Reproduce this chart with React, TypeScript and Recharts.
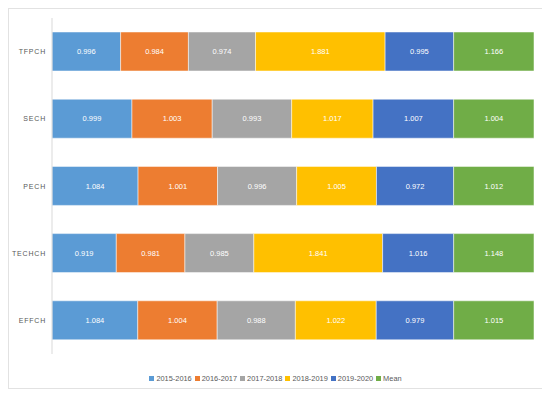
import React from "react";
import { BarChart, Bar, XAxis, YAxis, LabelList, Legend } from "recharts";

const categories = ["TFPCH", "SECH", "PECH", "TECHCH", "EFFCH"];
const seriesNames = ["2015-2016", "2016-2017", "2017-2018", "2018-2019", "2019-2020", "Mean"];
const v2015 = [0.996, 0.999, 1.084, 0.919, 1.084];
const v2016 = [0.984, 1.003, 1.001, 0.981, 1.004];
const v2017 = [0.974, 0.993, 0.996, 0.985, 0.988];
const v2018 = [1.881, 1.017, 1.005, 1.841, 1.022];
const v2019 = [0.995, 1.007, 0.972, 1.016, 0.979];
const vMean = [1.166, 1.004, 1.012, 1.148, 1.015];

const COLORS = ["#5B9BD5", "#ED7D31", "#A5A5A5", "#FFC000", "#4472C4", "#70AD47"];
const FONT = `"Liberation Sans", Arial, Helvetica, sans-serif`;

const allSeries = [v2015, v2016, v2017, v2018, v2019, vMean];
const keys = ["s0", "s1", "s2", "s3", "s4", "s5"];

const data = categories.map((name, i) => {
  const row: any = { name };
  allSeries.forEach((s, k) => (row[keys[k]] = s[i]));
  return row;
});

// y tick: right-aligned, letter-spaced caps
function Tick(props: any) {
  const { y, payload } = props;
  return (
    <text
      x={37}
      y={y}
      dy={2.5}
      textAnchor="end"
      fill="#595959"
      fontSize={7}
      fontFamily={FONT}
      letterSpacing={0.8}
    >
      {payload.value}
    </text>
  );
}

function LegendContent() {
  return (
    <div
      style={{
        display: "flex",
        justifyContent: "center",
        fontFamily: FONT,
        fontSize: 7.4,
        color: "#595959",
        gap: 3,
      }}
    >
      {seriesNames.map((n, i) => (
        <span key={n} style={{ display: "flex", alignItems: "center" }}>
          <span
            style={{
              display: "inline-block",
              width: 5,
              height: 5,
              background: COLORS[i],
              marginRight: 2,
            }}
          />
          {n}
        </span>
      ))}
    </div>
  );
}

export default function App() {
  return (
    <div
      style={{
        width: 533,
        height: 379,
        border: "1px solid #e2e2e2",
        boxShadow: "0 0 2px rgba(0,0,0,0.06)",
        background: "#fff",
      }}
    >
      <BarChart
        width={533}
        height={379}
        data={data}
        layout="vertical"
        stackOffset="expand"
        barSize={39}
        margin={{ top: 9, right: 8, left: 0, bottom: 25 }}
      >
        <XAxis type="number" hide domain={[0, 1]} />
        <YAxis
          type="category"
          dataKey="name"
          width={43}
          tickLine={false}
          axisLine={{ stroke: "#d9d9d9" }}
          tick={<Tick />}
        />
        <Legend
          content={<LegendContent />}
          wrapperStyle={{ position: "absolute", top: 365, left: 0, width: 533 }}
        />
        {keys.map((k, i) => (
          <Bar
            key={k}
            dataKey={k}
            name={seriesNames[i]}
            stackId="a"
            fill={COLORS[i]}
            stroke="#fff"
            strokeWidth={0.5}
            isAnimationActive={false}
          >
            <LabelList
              dataKey={k}
              position="center"
              formatter={(v: any) => Number(v).toFixed(3)}
              style={{ fill: "#fff", fontSize: 7.5, fontFamily: FONT }}
            />
          </Bar>
        ))}
      </BarChart>
    </div>
  );
}
